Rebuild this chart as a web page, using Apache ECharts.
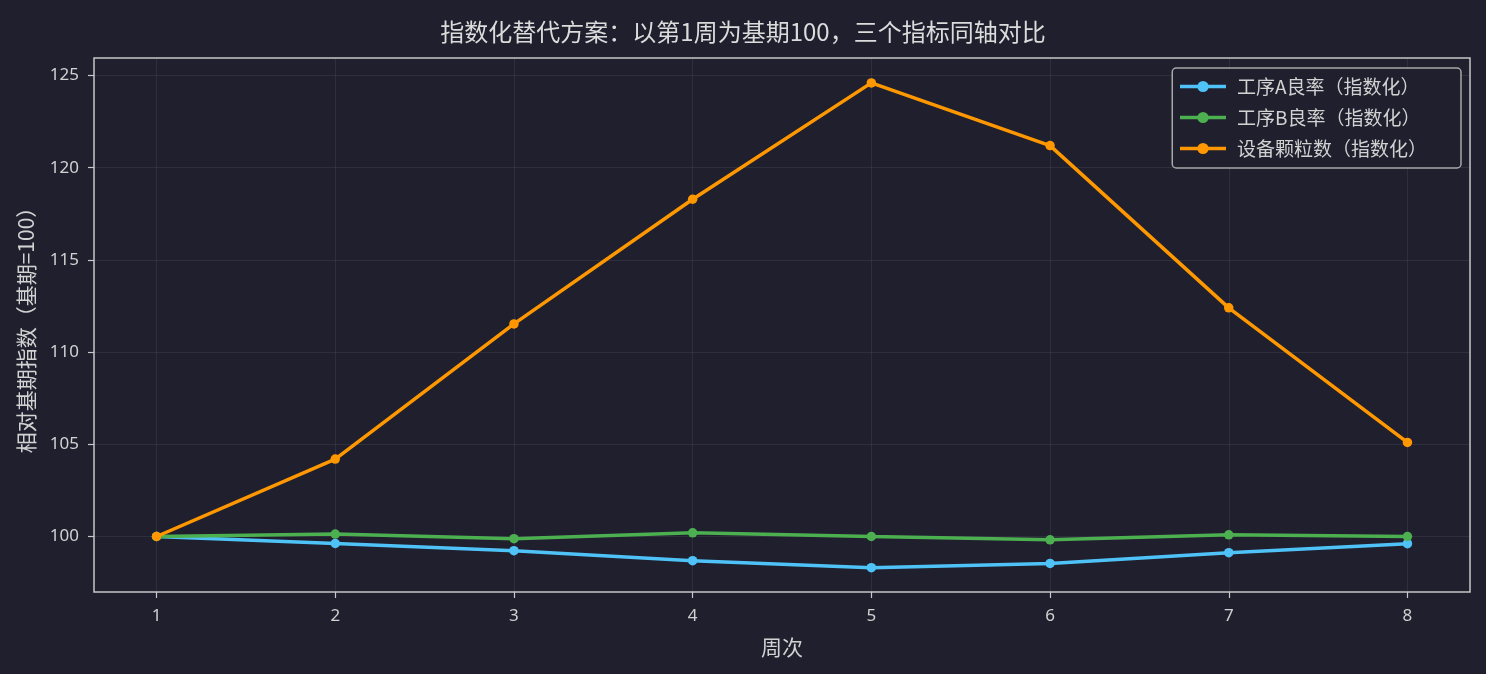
<!DOCTYPE html>
<html>
    <head>
        <meta charset="utf-8">
        <title>指数化替代方案</title>
        <style>*{margin:0;padding:0}body{background:#1f1f2e}#chart{width:1486px;height:674px}</style>
    </head>
    <body>
        <div id="chart"></div>
        <script type="text/javascript" src="https://fastly.jsdelivr.net/npm/echarts@6/dist/echarts.min.js"></script>
        <script>
            // 周次与三个指数化指标
            const weeks = [1, 2, 3, 4, 5, 6, 7, 8];
            const yieldA = [100, 99.62, 99.23, 98.69, 98.31, 98.54, 99.12, 99.61];
            const yieldB = [100, 100.13, 99.88, 100.2, 100, 99.82, 100.09, 100];
            const particles = [100, 104.2, 111.53, 118.29, 124.6, 121.2, 112.4, 105.1];
            const yTicks = [100, 105, 110, 115, 120, 125];
            const seriesNames = ['工序A良率（指数化）', '工序B良率（指数化）', '设备颗粒数（指数化）'];
            const colors = ['#4fc3f7', '#4caf50', '#ff9800'];

            const font = '"Noto Sans CJK SC", "Noto Sans", sans-serif';
            const tickFont = '"Noto Sans", "DejaVu Sans", sans-serif';
            const textColor = '#d2d2d2';
            const gridLine = { show: true, lineStyle: { color: 'rgba(255,255,255,0.07)', width: 1 } };

            const chart = echarts.init(document.getElementById('chart'));

            function toPairs(vals) {
                return weeks.map((w, i) => [w, vals[i]]);
            }

            const series = [yieldA, yieldB, particles].map((vals, i) => ({
                name: seriesNames[i],
                type: 'line',
                data: toPairs(vals),
                symbol: 'circle',
                symbolSize: 9.5,
                lineStyle: { width: 3.5, color: colors[i] },
                itemStyle: { color: colors[i] },
                z: 2 + i
            }));

            chart.setOption({
                backgroundColor: '#1f1f2e',
                textStyle: { fontFamily: font },
                animation: false,
                title: {
                    text: '指数化替代方案：以第1周为基期100，三个指标同轴对比',
                    left: 'center',
                    top: 15,
                    textStyle: { color: '#dcdcdc', fontSize: 24, fontWeight: 'normal', fontFamily: font }
                },
                legend: {
                    data: seriesNames,
                    orient: 'vertical',
                    right: 25,
                    top: 68,
                    itemWidth: 46,
                    itemHeight: 14,
                    itemGap: 12,
                    padding: [9, 34, 10, 6],
                    borderColor: '#a8a8a8',
                    borderWidth: 1.5,
                    borderRadius: 4,
                    backgroundColor: '#1f1f2e',
                    lineStyle: { width: 3.5 },
                    textStyle: { color: textColor, fontSize: 19, fontFamily: font, padding: [0, 0, 0, 6] }
                },
                grid: {
                    left: 94, right: 16, top: 58, bottom: 82,
                    show: true,
                    borderColor: '#c8c8c8',
                    borderWidth: 1.5,
                    backgroundColor: 'transparent'
                },
                xAxis: {
                    type: 'value',
                    min: 0.65,
                    max: 8.35,
                    name: '周次',
                    nameLocation: 'middle',
                    nameGap: 45,
                    nameTextStyle: { color: textColor, fontSize: 21 },
                    axisLine: { show: false },
                    axisTick: { show: true, length: 6, lineStyle: { color: '#c8c8c8', width: 1.2 }, customValues: weeks },
                    axisLabel: { color: textColor, fontSize: 17, margin: 16, fontFamily: tickFont, customValues: weeks },
                    splitLine: gridLine
                },
                yAxis: {
                    type: 'value',
                    min: 96.99,
                    max: 125.95,
                    name: '相对基期指数（基期=100）',
                    nameLocation: 'middle',
                    nameGap: 57,
                    nameRotate: 90,
                    nameTextStyle: { color: textColor, fontSize: 21 },
                    axisLine: { show: false },
                    axisTick: { show: true, length: 6, lineStyle: { color: '#c8c8c8', width: 1.2 }, customValues: yTicks },
                    axisLabel: { color: textColor, fontSize: 17, margin: 15, fontFamily: tickFont, customValues: yTicks },
                    splitLine: gridLine
                },
                series: series
            });
        </script>
    </body>
</html>
